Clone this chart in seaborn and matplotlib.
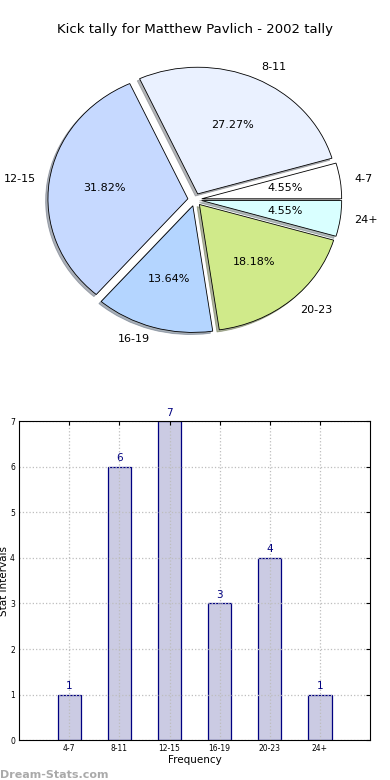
import numpy as np
import seaborn as sns
import matplotlib
matplotlib.use('Agg')
import matplotlib.pyplot as plt

# data
intervals = ['4-7', '8-11', '12-15', '16-19', '20-23', '24+']
kicks = [1, 6, 7, 3, 4, 1]
pie_colors = ['#ffffff', '#eaf1ff', '#c6d9ff', '#b4d5ff', '#d0ea8a', '#d9ffff']
title = 'Kick tally for Matthew Pavlich - 2002 tally'

sns.set_style('white')
plt.rcParams['font.family'] = ['DejaVu Sans']
plt.rcParams['text.color'] = 'black'
plt.rcParams['axes.labelcolor'] = 'black'
plt.rcParams['xtick.color'] = 'black'
plt.rcParams['ytick.color'] = 'black'

fig = plt.figure(figsize=(3.9, 7.8), dpi=100)

# pie chart on top
ax1 = fig.add_axes([0.051, 0.541, 0.897, 0.406])
ax1.pie(kicks, labels=intervals, colors=pie_colors, explode=[0.05] * len(kicks),
        autopct='%1.2f%%', shadow={'ox': -0.012, 'oy': -0.012, 'shade': 0.55},
        startangle=0,
        wedgeprops={'edgecolor': 'black', 'linewidth': 0.6},
        textprops={'fontsize': 8, 'color': 'black'})
ax1.set_aspect('auto')
ax1.set_xlim(-1.25, 1.25)
ax1.set_ylim(-1.25, 1.25)
ax1.set_title(title, fontsize=9.5, pad=6, color='black')

# bar chart below
ax2 = fig.add_axes([0.049, 0.051, 0.9, 0.409])
sns.barplot(x=intervals, y=kicks, ax=ax2, width=0.46, color='#cbcbe3',
            edgecolor='#000080', linewidth=0.9, saturation=1)
for i, v in enumerate(kicks):
    ax2.text(i, v + 0.08, str(v), ha='center', va='bottom', color='#000080', fontsize=7.5)
ax2.set_xlim(-1, 6)
ax2.set_ylim(0, 7)
ax2.set_yticks(range(0, 8))
ax2.grid(True, linestyle=':', color='#bdbdbd', linewidth=0.9)
ax2.set_axisbelow(False)
for s in ax2.spines.values():
    s.set_visible(True)
    s.set_color('black')
    s.set_linewidth(0.8)
    s.set_zorder(4)
ax2.tick_params(axis='both', labelsize=5.5, direction='in', length=3, right=True, top=True, pad=3)
ax2.set_xlabel('Frequency', fontsize=7.5, labelpad=1)
ax2.set_ylabel('Stat Intervals', fontsize=7.5, labelpad=1)

fig.text(0.0, 0.003, 'Dream-Stats.com', fontsize=8, color='#aaaaaa', fontweight='bold')

fig.savefig('out.png', dpi=100)
